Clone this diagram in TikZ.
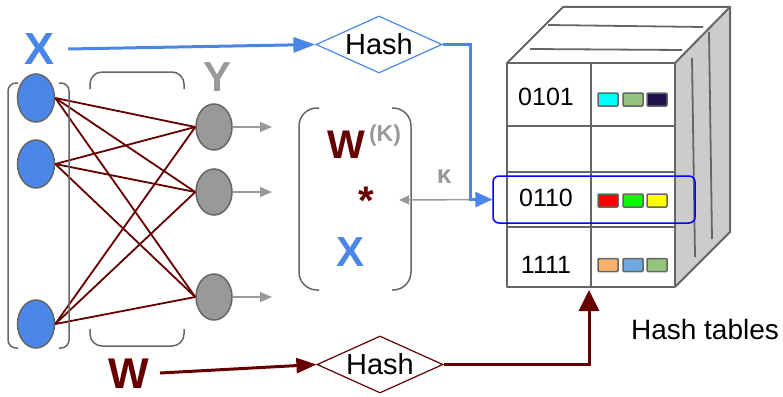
\documentclass[tikz,border=0pt]{standalone}
\usepackage{fontspec}
\setmainfont{Liberation Sans}
\usetikzlibrary{shapes.geometric,arrows.meta}
\definecolor{xblue}{HTML}{4A86E8}
\definecolor{wred}{HTML}{660000}
\definecolor{ngray}{HTML}{999999}
\definecolor{bgray}{HTML}{666666}
\definecolor{sidegray}{HTML}{CCCCCC}
\definecolor{hlblue}{HTML}{0000FF}
\definecolor{swcyan}{HTML}{00FFFF}
\definecolor{swgreen}{HTML}{93C47D}
\definecolor{swnavy}{HTML}{20124D}
\definecolor{swred}{HTML}{FF0000}
\definecolor{swlime}{HTML}{00FF00}
\definecolor{swyellow}{HTML}{FFFF00}
\definecolor{sworange}{HTML}{F6B26B}
\definecolor{swblue}{HTML}{6FA8DC}
\begin{document}
\begin{tikzpicture}[x=1pt,y=-1pt,
  innode/.style={ellipse, draw=bgray, line width=1.5pt, fill=xblue, minimum width=37pt, minimum height=48pt, inner sep=0pt},
  outnode/.style={ellipse, draw=bgray, line width=1.5pt, fill=ngray, minimum width=36pt, minimum height=46pt, inner sep=0pt},
  edge/.style={draw=wred, line width=1.8pt},
  outarrow/.style={draw=ngray, line width=1.5pt, -{Triangle[length=12pt,width=10pt]}},
  bracket/.style={draw=bgray, line width=1.5pt},
  hashbox/.style={diamond, draw=#1, line width=1.2pt, fill=white, minimum width=126pt, minimum height=57pt, inner sep=0pt, aspect=2.2, font=\fontsize{29}{29}\selectfont},
  bigbold/.style={font=\fontsize{45}{45}\selectfont\bfseries, inner sep=0pt},
  rowtxt/.style={font=\fontsize{25}{25}\selectfont, inner sep=0pt},
  swatch/.style={draw=bgray, line width=1.5pt, fill=#1, minimum width=20pt, minimum height=13pt, inner sep=0pt, rounded corners=1pt},
  tableline/.style={draw=bgray, line width=2pt, line join=round}
]
\useasboundingbox (0,0) rectangle (783,396);

% ---------- network ----------
\node[innode] (i1) at (36,98) {};
\node[innode] (i2) at (36,164) {};
\node[innode] (i3) at (36,324) {};
\node[outnode] (o1) at (214,127) {};
\node[outnode] (o2) at (214,192) {};
\node[outnode] (o3) at (214,297) {};
\foreach \i in {i1,i2,i3}{\foreach \o in {o1,o2,o3}{\draw[edge] (\i.east) -- (\o.west);}}
\coordinate (a1) at (272,127);
\coordinate (a2) at (272,192);
\coordinate (a3) at (272,297);
\draw[outarrow] (o1.east) -- (a1);
\draw[outarrow] (o2.east) -- (a2);
\draw[outarrow] (o3.east) -- (a3);

% brackets around inputs
\draw[bracket, rounded corners=8pt] (18,83) -- (8,83) -- (8,348) -- (18,348);
\draw[bracket, rounded corners=8pt] (59,83) -- (69,83) -- (69,348) -- (59,348);
% braces over/under weights
\draw[bracket, rounded corners=12pt] (90,89) -- (90,72) -- (184,72) -- (184,89);
\draw[bracket, rounded corners=12pt] (90,329) -- (90,346) -- (184,346) -- (184,329);

\node[bigbold, text=xblue] (xlab) at (40,49) {X};
\node[bigbold, text=ngray, font=\fontsize{42}{42}\selectfont\bfseries] (ylab) at (218,77) {Y};
\node[bigbold, text=wred, font=\fontsize{43}{43}\selectfont\bfseries] (wlab) at (129,374) {W};

% ---------- matrix product ----------
\draw[bracket, rounded corners=18pt] (319,108) -- (299,108) -- (299,290) -- (319,290);
\draw[bracket, rounded corners=18pt] (392,108) -- (411,108) -- (411,290) -- (392,290);
\node[inner sep=0pt, text=wred, font=\fontsize{40}{40}\selectfont\bfseries] (wk) at (346,145) {W};
\node[inner sep=0pt, text=ngray, font=\fontsize{23}{23}\selectfont\bfseries] (kk) at (385,136) {(K)};
\node[inner sep=0pt, text=wred, font=\fontsize{40}{40}\selectfont\bfseries] (star) at (366,201) {*};
\node[inner sep=0pt, text=xblue, font=\fontsize{42}{42}\selectfont\bfseries] (mx) at (351,252) {X};
\node[inner sep=0pt, text=ngray, font=\fontsize{26}{26}\selectfont\bfseries] (kappa) at (444,177) {κ};

% ---------- hash diamonds ----------
\node[hashbox=xblue] (hx) at (379,44.5) {Hash};
\node[hashbox=wred] (hw) at (380,364.5) {Hash};

% ---------- hash table ----------
\fill[sidegray] (675,63) -- (730,7) -- (730,232) -- (675,287) -- cycle;
\draw[tableline] (675,63) -- (730,7) -- (730,232) -- (675,287);
\draw[tableline] (507,63) -- (563,7) -- (730,7);
\draw[tableline, line width=1.8pt] (548,25) -- (703,27);
\draw[tableline, line width=1.8pt] (530,49) -- (682,50);
\draw[tableline, line width=1.8pt] (692,58) -- (695,257);
\draw[tableline, line width=1.8pt] (709,32) -- (712,239);
\draw[tableline] (507,63) rectangle (675,287);
\draw[tableline] (591,63) -- (591,287);
\draw[tableline] (507,126) -- (675,126);
\draw[tableline] (507,172) -- (675,172);
\draw[tableline] (507,227) -- (675,227);

\node[rowtxt] (r1) at (546,97) {0101};
\node[rowtxt] (r3) at (546,198) {0110};
\node[rowtxt] (r4) at (546,265) {1111};

\node[swatch=swcyan] (s11) at (608,99.5) {};
\node[swatch=swgreen] (s12) at (633,99.5) {};
\node[swatch=swnavy] (s13) at (657,99.5) {};
\node[swatch=swred] (s31) at (608,200.5) {};
\node[swatch=swlime] (s32) at (633,200.5) {};
\node[swatch=swyellow] (s33) at (657,200.5) {};
\node[swatch=sworange] (s41) at (608,265) {};
\node[swatch=swblue] (s42) at (633,265) {};
\node[swatch=swgreen] (s43) at (657,265) {};

\node[draw=hlblue, line width=1.5pt, rounded corners=6pt, minimum width=202pt, minimum height=47pt, inner sep=0pt] (hl) at (594,199.5) {};

\node[font=\fontsize{28}{28}\selectfont, inner sep=0pt] (ht) at (705,329) {Hash tables};

% ---------- connectors ----------
\coordinate (kend) at (399,200);
\draw[draw=ngray, line width=1.5pt, -{Triangle[length=10pt,width=9pt]}] (hl.west) -- (kend);
\coordinate (xstart) at (68,49);
\draw[draw=xblue, line width=3pt, -{Triangle[length=22pt,width=15pt]}] (xstart) -- (hx.west);
\draw[draw=xblue, line width=3pt, -{Triangle[length=17pt,width=15pt]}] (hx.east) -- ++(28,0) |- (hl.west);
\coordinate (wstart) at (160,373);
\draw[draw=wred, line width=3pt, -{Triangle[length=20pt,width=15pt]}] (wstart) -- (hw.west);
\coordinate (tabin) at (589,290);
\draw[draw=wred, line width=3pt, -{Triangle[length=21pt,width=20pt]}] (hw.east) -| (tabin);
\end{tikzpicture}
\end{document}
